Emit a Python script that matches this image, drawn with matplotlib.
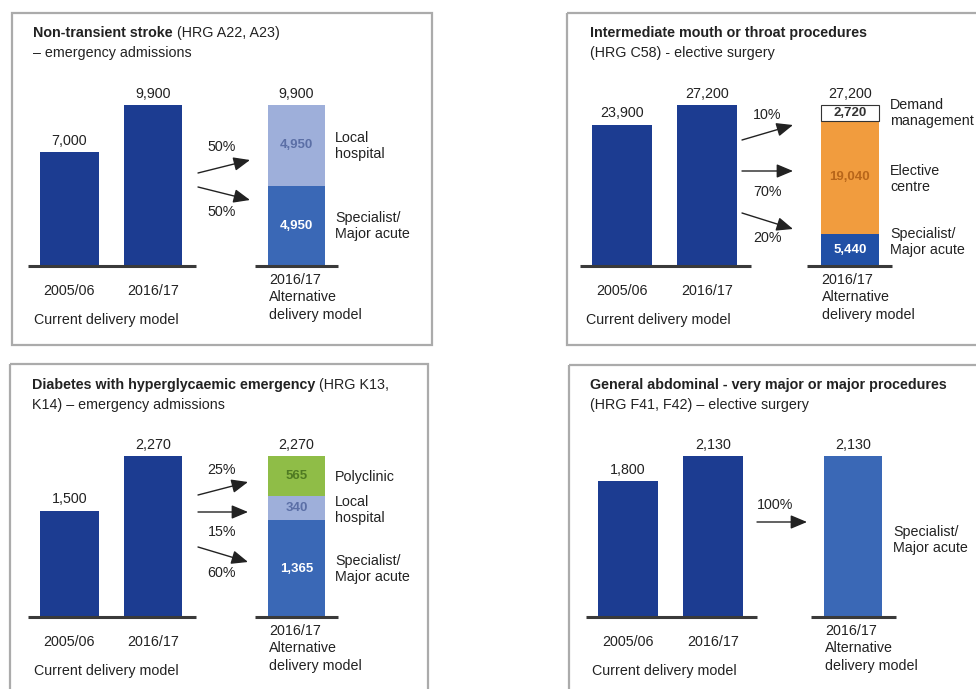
import matplotlib.pyplot as plt
from matplotlib.patches import Rectangle

plt.rcParams['font.family'] = ['Liberation Sans', 'DejaVu Sans']

W, H = 976, 689
NAVY = "#1c3c91"
MID = "#3a68b6"
LIGHT = "#9eafda"
ORANGE = "#f19c3e"
GREEN = "#8fbd47"
TXT = "#222222"
FS = 10.3

# values for each case
years = ["2005/06", "2016/17"]

stroke_current = [7000, 9900]
stroke_alt = [4950, 4950]          # bottom -> top
stroke_alt_names = ["Specialist/\nMajor acute", "Local\nhospital"]
stroke_shares = ["50%", "50%"]

mouth_current = [23900, 27200]
mouth_alt = [5440, 19040, 2720]
mouth_alt_names = ["Specialist/\nMajor acute", "Elective\ncentre", "Demand\nmanagement"]
mouth_shares = ["10%", "70%", "20%"]

diab_current = [1500, 2270]
diab_alt = [1365, 340, 565]
diab_alt_names = ["Specialist/\nMajor acute", "Local\nhospital", "Polyclinic"]
diab_shares = ["25%", "15%", "60%"]

abdo_current = [1800, 2130]
abdo_alt = [2130]
abdo_alt_names = ["Specialist/\nMajor acute"]
abdo_shares = ["100%"]

fig = plt.figure(figsize=(W / 100, H / 100), dpi=100)
fig.patch.set_facecolor("white")

# overlay in pixel coordinates for frames, titles and arrows
ov = fig.add_axes([0, 0, 1, 1])
ov.set_xlim(0, W)
ov.set_ylim(H, 0)
ov.axis("off")
ov.set_zorder(3)
ov.patch.set_alpha(0)


def frame(x0, y0, x1, y1):
    ov.add_patch(Rectangle((x0, y0), x1 - x0, y1 - y0, fill=False,
                           edgecolor="#ababab", lw=1.6))


def title(x, y, bold, rest, line2):
    t = ov.text(x, y, bold, fontsize=FS, fontweight="bold", color=TXT,
                va="center", ha="left")
    fig.canvas.draw()
    bb = t.get_window_extent()
    ov.text(x + bb.width + 4, y, rest, fontsize=FS, color=TXT, va="center")
    ov.text(x, y + 20, line2, fontsize=FS, color=TXT, va="center")


def arrow(x0, y0, x1, y1):
    ov.annotate("", xy=(x1, y1), xytext=(x0, y0),
                arrowprops=dict(arrowstyle="-|>,head_length=1.0,head_width=0.42",
                                color="#222222", lw=1.0, shrinkA=0, shrinkB=0))


def panel(xc, ybase, unit, vmax, alt_x, current, alt, alt_cols, alt_txt_cols):
    # axes whose data scale puts vmax 161 px above the baseline
    left = xc - 0.75 * unit
    width = 4.2 * unit
    px_top = ybase - 161 * 1.3
    ax = fig.add_axes([left / W, (H - ybase) / H, width / W, (ybase - px_top) / H])
    ax.set_xlim(-0.75, 3.45)
    ax.set_ylim(0, vmax * 1.3)
    ax.axis("off")
    bw = 0.7
    ax.bar([0, 1], current, width=bw, color=NAVY, zorder=2)
    for i, v in enumerate(current):
        ax.annotate(f"{v:,}", (i, v), xytext=(0, 3), textcoords="offset points",
                    ha="center", va="bottom", fontsize=FS, color=TXT)
        ax.annotate(years[i], (i, 0), xytext=(0, -13), textcoords="offset points",
                    ha="center", va="top", fontsize=FS, color=TXT)
    ax.annotate("Current delivery model", (-0.42, 0), xytext=(0, -34),
                textcoords="offset points", ha="left", va="top", fontsize=FS,
                color=TXT)
    bottom = 0
    for v, c, tc in zip(alt, alt_cols, alt_txt_cols):
        ec = "#333333" if c == "white" else c
        ax.bar(alt_x, v, width=bw * 0.97, bottom=bottom, color=c, edgecolor=ec,
               lw=0.8 if c == "white" else 0, zorder=2)
        if len(alt) > 1:
            ax.text(alt_x, bottom + v / 2, f"{v:,}", ha="center", va="center",
                    fontsize=FS - 0.8, fontweight="bold", color=tc, zorder=3)
        bottom += v
    ax.annotate(f"{sum(alt):,}", (alt_x, bottom), xytext=(0, 3),
                textcoords="offset points", ha="center", va="bottom",
                fontsize=FS, color=TXT)
    ax.annotate("2016/17\nAlternative\ndelivery model", (alt_x - 0.33, 0),
                xytext=(0, -5), textcoords="offset points", ha="left", va="top",
                fontsize=FS, color=TXT, linespacing=1.3)
    ax.plot([-0.5, 1.52], [0, 0], color="#3a3a3a", lw=2.2, zorder=3,
            solid_capstyle="butt", clip_on=False)
    ax.plot([alt_x - 0.5, alt_x + 0.5], [0, 0], color="#3a3a3a", lw=2.2,
            zorder=3, solid_capstyle="butt", clip_on=False)
    return ax


def seg_labels(x, ys, names):
    for y, n in zip(ys, names):
        ov.text(x, y, n, fontsize=FS, color=TXT, ha="left", va="center",
                linespacing=1.25)


def shares(x, ys, labels):
    for y, s in zip(ys, labels):
        ov.text(x, y, s, fontsize=FS, color=TXT, ha="center", va="center")


# Non-transient stroke
frame(12, 13, 432, 345)
title(33, 33, "Non-transient stroke", "(HRG A22, A23)", "– emergency admissions")
panel(69.5, 266, 83.5, max(stroke_current), 2.72, stroke_current, stroke_alt,
      [MID, LIGHT], ["white", "#5b6fa6"])
arrow(198, 173, 250, 160)
arrow(198, 187, 250, 200)
shares(222, [147, 212], stroke_shares)
seg_labels(335, [226, 146], stroke_alt_names)

# Intermediate mouth or throat procedures
frame(567, 13, 990, 345)
title(590, 33, "Intermediate mouth or throat procedures", "", "(HRG C58) - elective surgery")
panel(622, 266, 85, max(mouth_current), 2.68, mouth_current, mouth_alt,
      ["#2150a6", ORANGE, "white"], ["white", "#b8661a", "#333333"])
arrow(742, 140, 793, 125)
arrow(742, 171, 793, 171)
arrow(742, 213, 793, 229)
shares(767, [115, 192, 238], mouth_shares)
seg_labels(890, [242, 179, 113], mouth_alt_names)

# Diabetes with hyperglycaemic emergency
frame(10, 364, 428, 700)
title(32, 385, "Diabetes with hyperglycaemic emergency", "(HRG K13,",
      "K14) – emergency admissions")
panel(69.5, 617, 83.5, max(diab_current), 2.72, diab_current, diab_alt,
      [MID, LIGHT, GREEN], ["white", "#5b6fa6", "#4f7a22"])
arrow(198, 495, 248, 482)
arrow(198, 512, 248, 512)
arrow(198, 547, 248, 562)
shares(222, [470, 532, 573], diab_shares)
seg_labels(335, [569, 510, 477], diab_alt_names)

# General abdominal
frame(569, 365, 990, 700)
title(590, 385, "General abdominal - very major or major procedures", "",
      "(HRG F41, F42) – elective surgery")
panel(628, 617, 85, max(abdo_current), 2.65, abdo_current, abdo_alt,
      [MID], ["white"])
arrow(757, 522, 807, 522)
shares(775, [505], abdo_shares)
seg_labels(893, [540], abdo_alt_names)

fig.savefig("out.png", dpi=100)
